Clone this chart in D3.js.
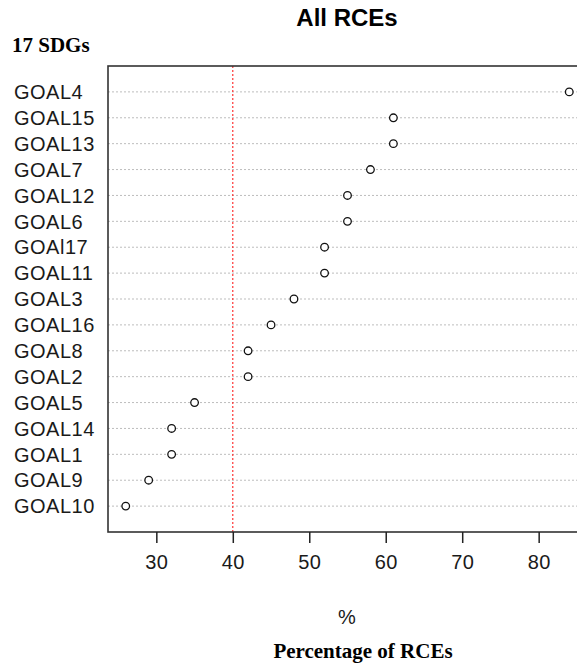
<!DOCTYPE html>
<html>
<head>
<meta charset="utf-8">
<script src="https://cdn.jsdelivr.net/npm/d3@7"></script>
<style>
  html, body { margin: 0; padding: 0; background: #fff; }
  svg { display: block; }
</style>
</head>
<body>
<svg id="chart" width="577" height="666"></svg>
<script>
const goals = ["GOAL4","GOAL15","GOAL13","GOAL7","GOAL12","GOAL6","GOAl17","GOAL11","GOAL3","GOAL16","GOAL8","GOAL2","GOAL5","GOAL14","GOAL1","GOAL9","GOAL10"];
const percents = [84, 61, 61, 58, 55, 55, 52, 52, 48, 45, 42, 42, 35, 32, 32, 29, 26];
const xTicks = [30, 40, 50, 60, 70, 80];
const refValue = 40;

const svg = d3.select("#chart");
const plotL = 108, plotR = 587, plotT = 66, plotB = 532;

const xmin = d3.min(percents), xmax = d3.max(percents);
const pad = (xmax - xmin) * 0.04;
const x = d3.scaleLinear().domain([xmin - pad, xmax + pad]).range([plotL, plotR]);
const n = goals.length;
const y = d3.scaleLinear().domain([0, n + 1]).range([plotB, plotT]);
const rowY = (i) => y(n - i);

// grid lines
svg.append("g").selectAll("line").data(goals).join("line")
  .attr("x1", plotL).attr("x2", plotR)
  .attr("y1", (d, i) => rowY(i)).attr("y2", (d, i) => rowY(i))
  .attr("stroke", "#bdbdbd").attr("stroke-width", 1)
  .attr("stroke-dasharray", "2,2");

// reference line
svg.append("line")
  .attr("x1", x(refValue)).attr("x2", x(refValue))
  .attr("y1", plotT).attr("y2", plotB)
  .attr("stroke", "#ff2020").attr("stroke-width", 1.1)
  .attr("stroke-dasharray", "2,2");

// box
svg.append("rect")
  .attr("x", plotL).attr("y", plotT)
  .attr("width", plotR - plotL).attr("height", plotB - plotT)
  .attr("fill", "none").attr("stroke", "#333").attr("stroke-width", 1.6);

// points
svg.append("g").selectAll("circle").data(percents).join("circle")
  .attr("cx", d => x(d)).attr("cy", (d, i) => rowY(i))
  .attr("r", 3.8).attr("fill", "#fff")
  .attr("stroke", "#111").attr("stroke-width", 1.3);

// labels
svg.append("g").selectAll("text").data(goals).join("text")
  .attr("x", 14).attr("y", (d, i) => rowY(i))
  .attr("dy", "0.36em")
  .attr("font-family", "Liberation Sans, Arial, sans-serif")
  .attr("font-size", 20)
  .attr("letter-spacing", 0.5)
  .attr("fill", "#1a1a1a")
  .text(d => d);

// x axis
const xAxis = d3.axisBottom(x).tickValues(xTicks).tickSize(11).tickPadding(12).tickSizeOuter(0);
const gx = svg.append("g").attr("transform", `translate(0,${plotB})`).call(xAxis);
gx.select(".domain").remove();
gx.selectAll(".tick line").attr("stroke", "#222").attr("stroke-width", 1.5);
gx.selectAll(".tick text")
  .attr("font-family", "Liberation Sans, Arial, sans-serif")
  .attr("font-size", 20)
  .attr("letter-spacing", 0.4)
  .attr("fill", "#1a1a1a");

// title
svg.append("text")
  .attr("x", 347).attr("y", 26)
  .attr("text-anchor", "middle")
  .attr("font-family", "Liberation Sans, Arial, sans-serif")
  .attr("font-weight", "bold").attr("font-size", 24)
  .attr("fill", "#000")
  .text("All RCEs");

svg.append("text")
  .attr("x", 12).attr("y", 52)
  .attr("font-family", "Liberation Serif, Times New Roman, serif")
  .attr("font-weight", "bold").attr("font-size", 21)
  .attr("fill", "#000")
  .text("17 SDGs");

svg.append("text")
  .attr("x", 347).attr("y", 624)
  .attr("text-anchor", "middle")
  .attr("font-family", "Liberation Sans, Arial, sans-serif")
  .attr("font-size", 20)
  .attr("fill", "#1a1a1a")
  .text("%");

svg.append("text")
  .attr("x", 363).attr("y", 658)
  .attr("text-anchor", "middle")
  .attr("font-family", "Liberation Serif, Times New Roman, serif")
  .attr("font-weight", "bold").attr("font-size", 21)
  .attr("fill", "#000")
  .text("Percentage of RCEs");
</script>
</body>
</html>
